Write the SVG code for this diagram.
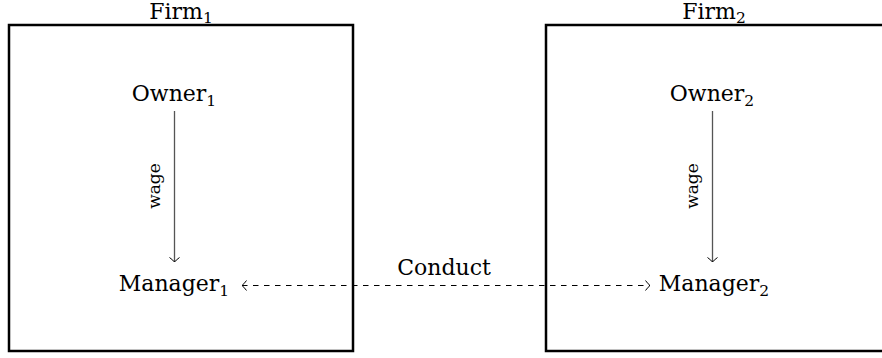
<svg xmlns="http://www.w3.org/2000/svg" width="882" height="358" viewBox="0 0 882 358">
<style>
.box{fill:none;stroke:#000;stroke-width:2.5}
.t{font-family:"DejaVu Serif","Liberation Serif",serif;font-size:22px;fill:#000;text-anchor:middle}
.sub{font-size:15.5px}
.w{font-family:"DejaVu Serif","Liberation Serif",serif;font-size:17px;fill:#000;text-anchor:middle}
.ar{fill:none;stroke:#555;stroke-width:1.3}
.dash{fill:none;stroke:#000;stroke-width:1;stroke-dasharray:5.5 5.5}
</style>
<defs>
<marker id="v" viewBox="-6 -6 8 12" markerWidth="8" markerHeight="12" markerUnits="userSpaceOnUse" orient="auto-start-reverse" refX="0" refY="0">
<path d="M-4.5,-5 Q-1.5,-1 0,0 Q-1.5,1 -4.5,5" fill="none" stroke="#000" stroke-width="1"/>
</marker>
</defs>
<g id="firm1">
<rect class="box" x="9" y="25" width="344" height="326"/>
<text class="t" x="181" y="19">Firm<tspan class="sub" dy="4">1</tspan></text>
</g>
<g id="firm2">
<rect class="box" x="546" y="25" width="345" height="326"/>
<text class="t" x="714" y="19">Firm<tspan class="sub" dy="4">2</tspan></text>
</g>
<g id="owner1"><text class="t" x="174" y="101">Owner<tspan class="sub" dy="5">1</tspan></text></g>
<g id="owner2"><text class="t" x="712" y="101">Owner<tspan class="sub" dy="5">2</tspan></text></g>
<g id="manager1"><text class="t" x="174" y="291">Manager<tspan class="sub" dy="5">1</tspan></text></g>
<g id="manager2"><text class="t" x="714" y="291">Manager<tspan class="sub" dy="5">2</tspan></text></g>
<g id="connectors">
<line class="ar" x1="174.5" y1="111" x2="174.5" y2="262" marker-end="url(#v)"/>
<line class="ar" x1="712.5" y1="111" x2="712.5" y2="262" marker-end="url(#v)"/>
<text class="w" transform="translate(160,186) rotate(-90)">wage</text>
<text class="w" transform="translate(698,186) rotate(-90)">wage</text>
<line class="dash" x1="242" y1="285.5" x2="650" y2="285.5" marker-start="url(#v)" marker-end="url(#v)"/>
<text class="t" x="444" y="275">Conduct</text>
</g>
</svg>
